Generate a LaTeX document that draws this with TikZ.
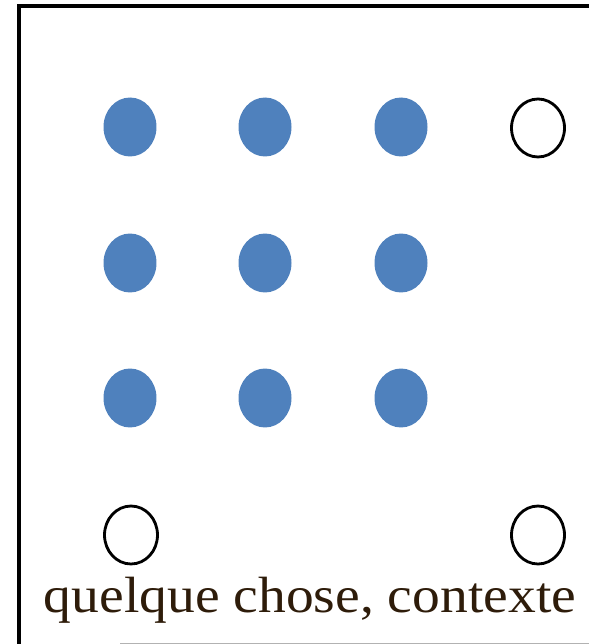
\documentclass[tikz,border=0pt]{standalone}
\usepackage{fontspec}
\setmainfont{Liberation Serif}
\usetikzlibrary{shapes.geometric}
\definecolor{bleu}{HTML}{4F81BD}
\definecolor{encre}{HTML}{2E1C0A}

\begin{document}
\begin{tikzpicture}[x=0.02cm,y=-0.02cm,
	plein/.style={ellipse,fill=bleu,inner sep=0pt,minimum width=1.06cm,minimum height=1.18cm},
	vide/.style={ellipse,draw,line width=1.6pt,inner sep=0pt,minimum width=1.06cm,minimum height=1.16cm}]
	\useasboundingbox (0,0) rectangle (589,644);
	%CADRE (ouvert a droite)
	\coordinate (Hd) at (589,6);
	\coordinate (Hg) at (19,6);
	\coordinate (Bg) at (19,644);
	\draw[line width=2.5pt] (Bg) -- (Hg) -- (Hd);
	\coordinate (Ba) at (120,643);
	\coordinate (Bb) at (589,643);
	\draw[gray!60,line width=0.5pt] (Ba) -- (Bb);
	%POINTS PLEINS
	\node[plein] (P11) at (130,127) {};
	\node[plein] (P12) at (265,127) {};
	\node[plein] (P13) at (401,127) {};
	\node[plein] (P21) at (130,263) {};
	\node[plein] (P22) at (265,263) {};
	\node[plein] (P23) at (401,263) {};
	\node[plein] (P31) at (130,398) {};
	\node[plein] (P32) at (265,398) {};
	\node[plein] (P33) at (401,398) {};
	%POINTS VIDES
	\node[vide] (V14) at (538,128) {};
	\node[vide] (V41) at (131,535) {};
	\node[vide] (V44) at (538,535) {};
	%TEXTE
	\node[anchor=base,text=encre,font=\fontsize{29}{35}\selectfont] (T) at (310,612) {\scalebox{1.09}[1]{quelque chose, contexte}};
\end{tikzpicture}
\end{document}
